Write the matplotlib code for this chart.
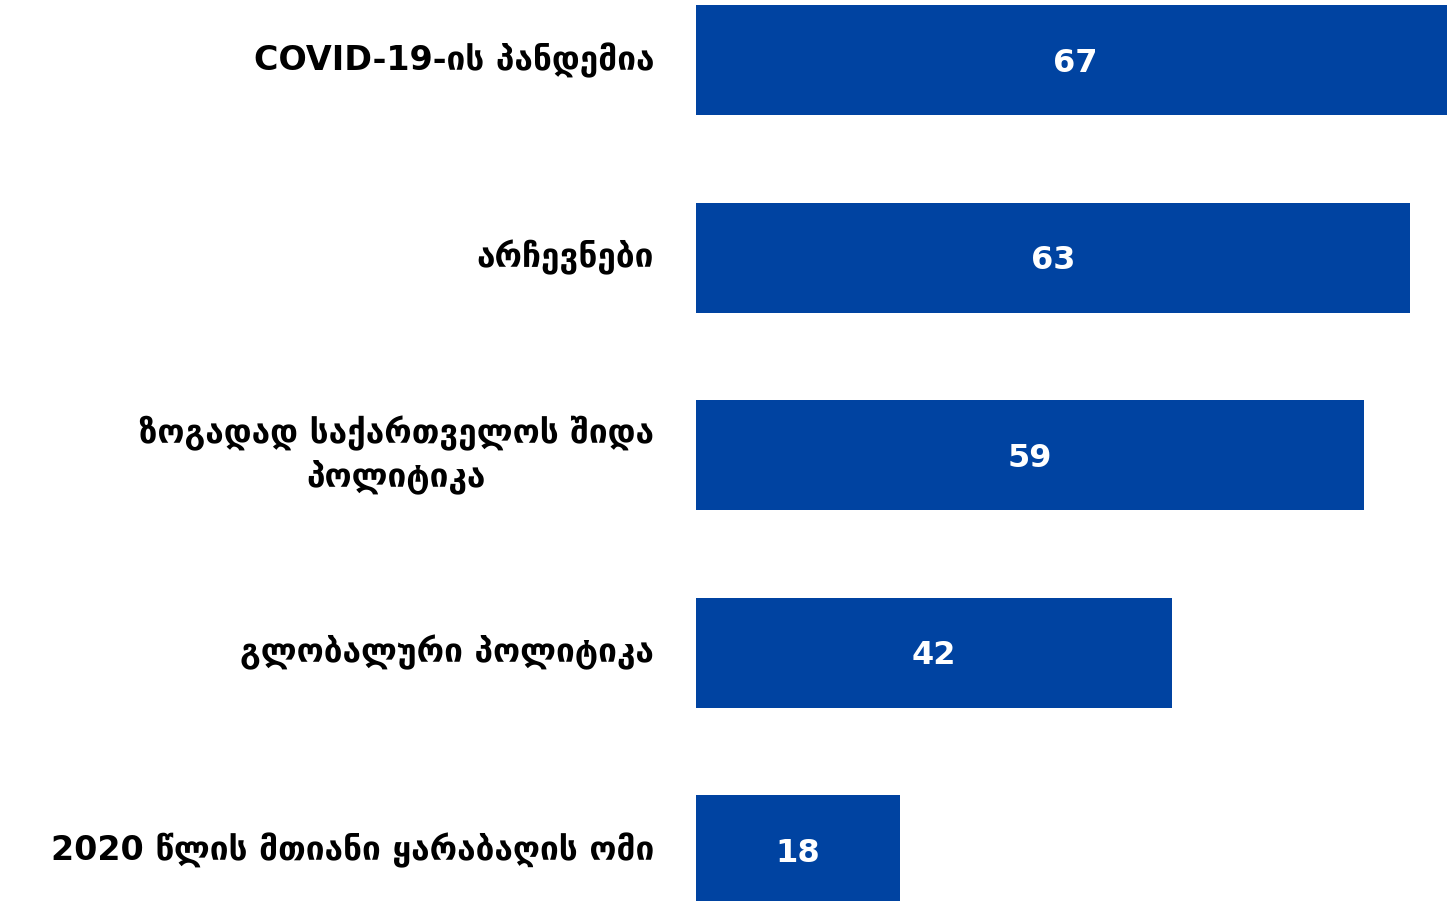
import matplotlib.pyplot as plt

labels = [
    "COVID-19-ის პანდემია",
    "არჩევნები",
    "ზოგადად საქართველოს შიდა\nპოლიტიკა",
    "გლობალური პოლიტიკა",
    "2020 წლის მთიანი ყარაბაღის ომი",
]
values = [67, 63, 59, 42, 18]

bar_color = "#0043A1"

fig = plt.figure(figsize=(14.47, 9.01), dpi=100)
ax = fig.add_axes([696 / 1447, 0, 751 / 1447, 1])

pos = list(range(len(values)))
ax.barh(pos, values, height=0.557, color=bar_color)

# value labels centred in each bar
for y, v in zip(pos, values):
    ax.text(v / 2, y + 0.015, str(v), ha="center", va="center", color="white",
            fontsize=23, fontweight="bold", family="DejaVu Sans")

# category labels to the left of the axes
for y, lab in zip(pos, labels):
    ax.annotate(lab, xy=(0, y), xycoords=("axes fraction", "data"),
                xytext=(-42, 0), textcoords="offset pixels",
                ha="right", va="center", multialignment="center",
                fontsize=24, fontweight="bold", family="DejaVu Sans",
                color="black", linespacing=1.3)

ax.set_xlim(0, 66.3)
ax.set_ylim(4.258, -0.304)
ax.axis("off")

fig.savefig("out.png", dpi=100)
